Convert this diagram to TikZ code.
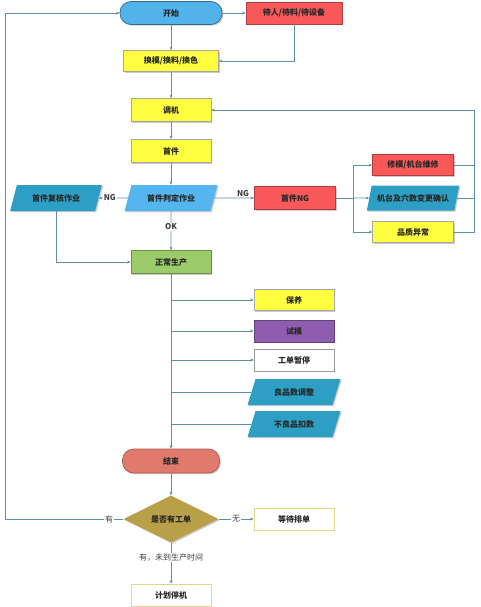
\documentclass[tikz,border=0pt]{standalone}
\usepackage{fontspec}
\setmainfont{Noto Sans CJK SC}
\usetikzlibrary{shapes.geometric,arrows.meta,shadows}
\definecolor{lc}{HTML}{5E8FA0}
\definecolor{cblue}{HTML}{52B2EA}
\definecolor{cred}{HTML}{F85858}
\definecolor{cyel}{HTML}{FFFF40}
\definecolor{cteal}{HTML}{2E9FC4}
\definecolor{clblue}{HTML}{55B5EE}
\definecolor{cgreen}{HTML}{9CCB6A}
\definecolor{cpurp}{HTML}{8E5DB0}
\definecolor{csalm}{HTML}{E07A6C}
\definecolor{cgold}{HTML}{B9A048}
\definecolor{cwb}{HTML}{E6D68A}
\begin{document}
\begin{tikzpicture}[x=1pt,y=-1pt,
  every node/.style={font=\fontsize{8}{9.5}\selectfont\bfseries, text=black!85},
  shad/.style={drop shadow={shadow xshift=1.2pt,shadow yshift=-1.2pt,fill=black!45,opacity=.45}},
  box/.style={rectangle, draw=black!35, line width=0.6pt, shad, minimum width=80pt, minimum height=22pt, inner sep=1pt},
  term/.style={rectangle, rounded corners=11pt, line width=0.7pt, shad, minimum height=23pt, inner sep=1pt},
  para/.style={trapezium, trapezium left angle=66, trapezium right angle=114, trapezium stretches=true, minimum width=93pt, minimum height=26pt, inner sep=1pt, draw=none, shad},
  lab/.style={font=\fontsize{8}{9.5}\selectfont, fill=white, inner sep=1pt, text=black!75},
  ln/.style={draw=lc, line width=0.7pt},
  arr/.style={ln, -{Stealth[length=3.5pt,width=3pt]}}]
\useasboundingbox[fill=white] (0,0) rectangle (481,607);

\node[term, fill=cblue, draw=cblue!60!black, minimum width=102pt] (start) at (171,13) {开始};
\node[box, fill=cred, draw=cred!70!black, minimum width=96pt] (wait) at (294,13) {待人/待料/待设备};
\node[box, fill=cyel, minimum width=95pt, minimum height=21pt] (chg) at (171,61) {换模/换料/换色};
\node[box, fill=cyel, minimum height=23pt] (adj) at (171,110) {调机};
\node[box, fill=cyel, minimum height=23pt] (first) at (171,151) {首件};
\node[para, fill=clblue] (judge) at (171,198) {首件判定作业};
\node[para, fill=cteal, minimum width=92pt] (recheck) at (56,198) {首件复核作业};
\node[box, fill=cred, draw=cred!70!black, minimum width=81pt, minimum height=23pt] (ng) at (295,198) {首件NG};
\node[box, fill=cred, draw=cred!70!black, minimum width=81pt, minimum height=21pt] (repair) at (413,165) {修模/机台维修};
\node[para, fill=cteal, minimum height=25pt] (cav) at (413,198) {机台及穴数变更确认};
\node[box, fill=cyel, minimum width=81pt, minimum height=21pt] (qual) at (413,232) {品质异常};
\node[box, fill=cgreen, draw=cgreen!70!black, minimum height=23pt] (normal) at (171,262) {正常生产};
\node[box, fill=cyel, minimum height=21pt] (maint) at (294,300) {保养};
\node[box, fill=cpurp, draw=cpurp!70!black] (trial) at (294,331) {试模};
\node[box, fill=white, draw=black!40] (pause) at (294,360) {工单暂停};
\node[para, fill=cteal] (good) at (294,392) {良品数调整};
\node[para, fill=cteal] (bad) at (294,424) {不良品扣数};
\node[term, fill=csalm, draw=csalm!75!black, minimum width=97pt, minimum height=24pt] (end) at (171,461) {结束};
\node[diamond, fill=cgold, draw=none, shad, minimum width=95pt, minimum height=47pt, inner sep=0pt, aspect=2] (dec) at (171,519) {是否有工单};
\node[box, fill=white, draw=cwb, line width=0.8pt] (waitorder) at (294,519) {等待排单};
\node[box, fill=white, draw=cwb, line width=0.8pt] (stop) at (171,595) {计划停机};

\coordinate (split) at (353,198);
\coordinate (rt) at (474,110);
\coordinate (lt) at (5,519);

\draw[arr] (start) -- (wait);
\draw[arr] (start) -- (chg);
\draw[arr] (wait.south) |- (chg.east);
\draw[arr] (chg) -- (adj);
\draw[arr] (adj) -- (first);
\draw[arr] (first) -- (judge);
\draw[arr] (judge) -- node[lab, pos=0.62, font=\fontsize{8}{9.5}\selectfont\bfseries] {NG} (recheck);
\draw[arr] (judge) -- node[lab, pos=0.72, above=0pt, fill=none, font=\fontsize{8}{9.5}\selectfont\bfseries] {NG} (ng);
\draw[ln] (ng.east) -- (split);
\draw[arr] (split) |- (repair.west);
\draw[arr] (split) -- (cav.west);
\draw[arr] (split) |- (qual.west);
\draw[ln] (repair.east) -- (repair.east -| rt);
\draw[ln] (cav.east) -- (cav.east -| rt);
\draw[ln] (qual.east) -| (rt);
\draw[arr] (rt) -- (adj.east);
\draw[arr] (judge) -- node[lab, pos=0.4, font=\fontsize{8}{9.5}\selectfont\bfseries] {OK} (normal);
\draw[arr] (recheck.south) |- (normal.west);
\draw[arr] (normal) -- (end);
\draw[arr] (maint.west -| normal) -- (maint.west);
\draw[arr] (trial.west -| normal) -- (trial.west);
\draw[arr] (pause.west -| normal) -- (pause.west);
\draw[ln] (good.west -| normal) -- (good.west);
\draw[ln] (bad.west -| normal) -- (bad.west);
\draw[arr] (end) -- (dec);
\draw[arr] (dec.west) -- node[lab, pos=0.12] {有} (lt) |- (start.west);
\draw[arr] (dec.east) -- node[lab, pos=0.5] {无} (waitorder.west);
\draw[arr] (dec.south) -- node[lab, pos=0.36] {有，未到生产时间} (stop.north);
\end{tikzpicture}
\end{document}
